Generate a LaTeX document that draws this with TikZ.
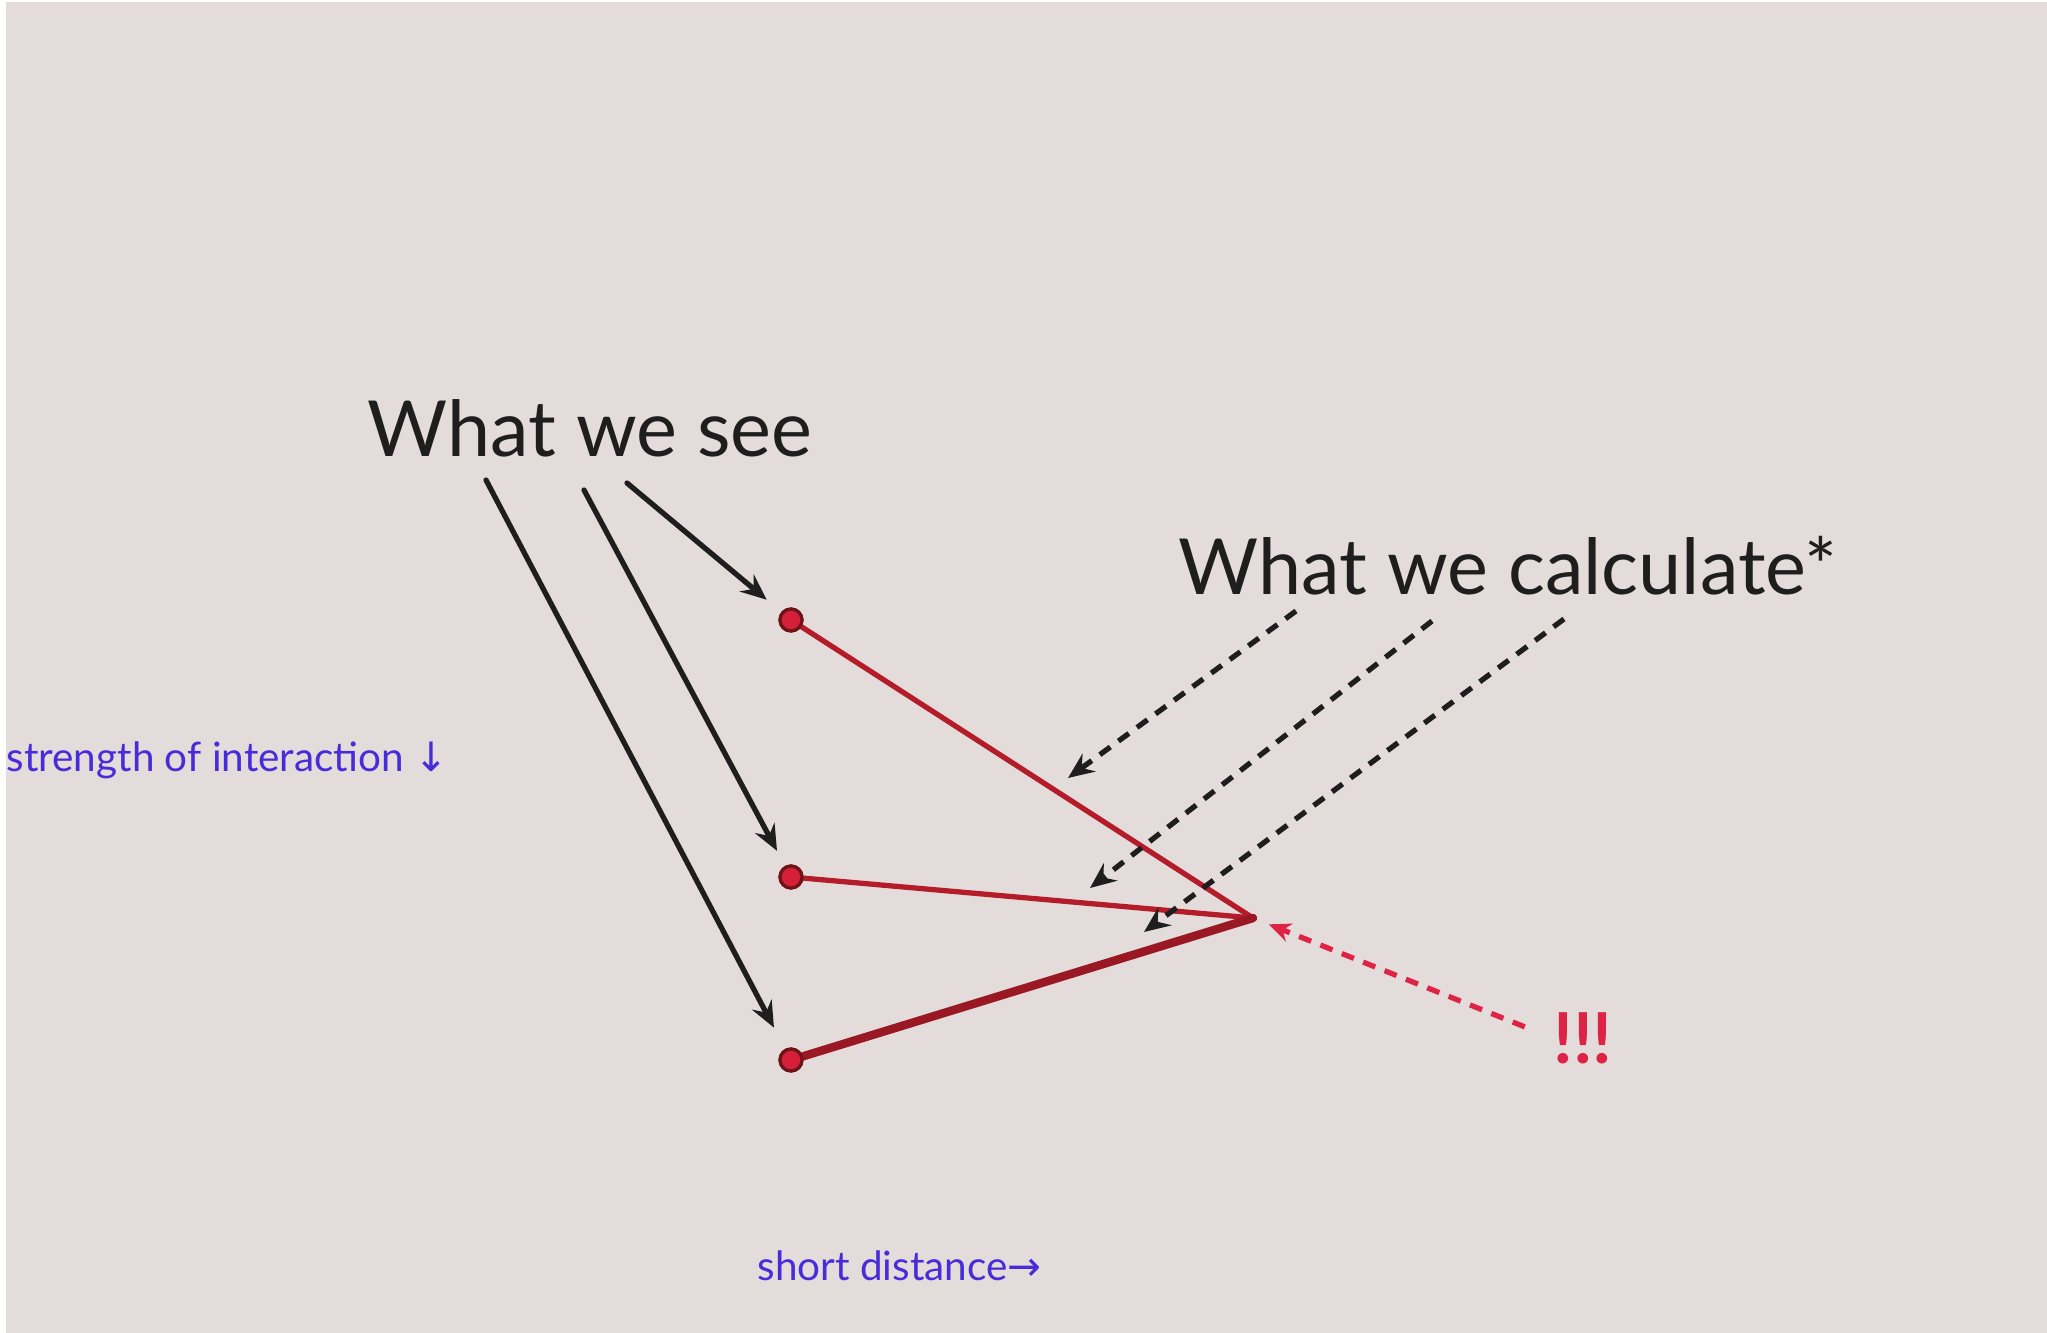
\documentclass[tikz,border=0pt]{standalone}
\usepackage{fontspec}
\setmainfont{Lato}
\newfontfamily\arrowfont{DejaVu Sans}
\usetikzlibrary{arrows.meta}
\definecolor{paper}{RGB}{228,220,218}
\definecolor{ink}{RGB}{30,30,30}
\definecolor{axisblue}{RGB}{72,44,218}
\definecolor{bondred}{RGB}{180,28,42}
\definecolor{dotred}{RGB}{214,32,58}
\definecolor{dotrim}{RGB}{110,20,24}
\definecolor{alarm}{RGB}{222,36,70}

\begin{document}
\begin{tikzpicture}[x=0.01cm,y=-0.01cm,line cap=round,
  seearrow/.style={-{Stealth[length=0.26cm,width=0.22cm,inset=0.09cm]},line width=1.5pt,ink},
  calcarrow/.style={-{Stealth[length=0.26cm,width=0.22cm,inset=0.09cm]},line width=1.5pt,ink,
    line cap=butt,dash pattern=on 0.13cm off 0.10cm},
  bond/.style={line width=1.5pt,bondred},
  dot/.style={circle,draw=dotrim,fill=dotred,line width=0.9pt,minimum size=0.22cm,inner sep=0pt},
  big/.style={font=\fontsize{22}{26}\selectfont,text=ink,inner sep=0pt},
  axis/.style={font=\fontsize{11.5}{14}\selectfont,text=axisblue,inner sep=0pt}]
  % ---------------- paper ----------------
  \fill[paper] (0,0) rectangle (2047,1333);
  \fill[white] (0,0) rectangle (6,1333);
  \fill[white] (0,0) rectangle (2047,2);
  \useasboundingbox (0,0) rectangle (2047,1333);

  % ---------------- titles ----------------
  \node[big] (see) at (590,428) {What we see};
  \node[big] (calc) at (1508,566) {What we calculate*};
  \node[font=\fontsize{20}{24}\selectfont\bfseries,text=alarm,inner sep=0pt] (bang) at (1583,1038) {!!!};

  % ---------------- axis hints ----------------
  \node[axis,anchor=west] (strength) at (6,760) {strength of interaction {\arrowfont ↓}};
  \node[axis,anchor=west] (dist) at (757,1266) {short distance{\arrowfont →}};

  % ---------------- three states and the apex ----------------
  \coordinate (apex) at (1253,918);
  \node[dot] (d1) at (791,620) {};
  \node[dot] (d2) at (791,877) {};
  \node[dot] (d3) at (791,1060) {};
  \draw[bond] (d1) -- (apex);
  \draw[bond] (d2) -- (apex);
  \draw[bond,line width=2.4pt,bondred!85!black] (d3) -- (apex);
  \node[dot] at (d1) {};
  \node[dot] at (d2) {};
  \node[dot] at (d3) {};

  % ---------------- what we see: solid arrows ----------------
  \foreach \n/\x/\y/\s in {1/627/483/0.19cm,2/584/490/0.17cm,3/486/480/0.24cm}
    {\coordinate (s\n) at (\x,\y);
     \draw[seearrow,shorten >=\s] (s\n) -- (d\n);}

  % ---------------- what we calculate: dashed arrows ----------------
  \foreach \n/\x/\y/\u/\v in {1/1296/611/1068/778,2/1432/621/1090/888,3/1564/619/1144/932}
    {\coordinate (c\n) at (\x,\y);
     \coordinate (t\n) at (\u,\v);
     \draw[calcarrow] (c\n) -- (t\n);}

  % ---------------- the surprise ----------------
  \draw[-{Stealth[length=0.22cm,width=0.19cm,inset=0.07cm]},line width=1.5pt,alarm,
    line cap=butt,dash pattern=on 0.13cm off 0.10cm,shorten <=0.3cm,shorten >=0.17cm]
    (bang.west) -- (apex);
\end{tikzpicture}
\end{document}
